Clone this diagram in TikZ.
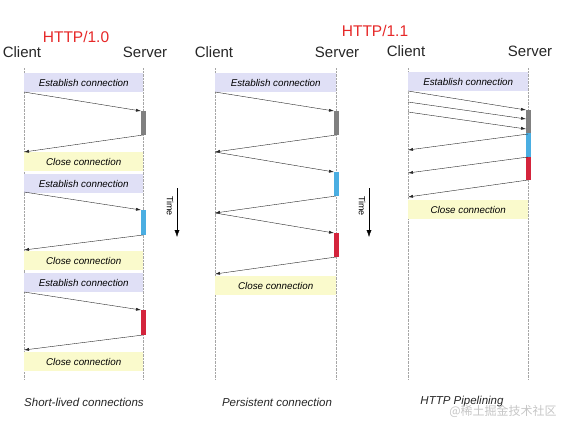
\documentclass[tikz,border=0pt]{standalone}
\usepackage{fontspec}
\setmainfont{Liberation Sans}
\newfontfamily\cjk{Noto Sans CJK SC}
\usetikzlibrary{arrows.meta}
\definecolor{estfill}{RGB}{224,224,246}
\definecolor{closefill}{RGB}{250,250,204}
\definecolor{bargray}{RGB}{128,128,128}
\definecolor{barblue}{RGB}{74,174,226}
\definecolor{barred}{RGB}{212,36,60}
\definecolor{httpred}{RGB}{230,40,40}
\tikzset{
  lifeline/.style={gray!70, densely dotted, thin},
  msg/.style={black!85, thin, -{Latex[length=5pt,width=3pt]}},
  estbox/.style={fill=estfill, anchor=north west, minimum height=19pt, inner sep=0pt, font=\itshape\fontsize{9.8}{10}\selectfont},
  closebox/.style={fill=closefill, anchor=north west, minimum height=19pt, inner sep=0pt, font=\itshape\fontsize{9.8}{10}\selectfont},
  role/.style={font=\fontsize{15}{17}\selectfont, text=black!85},
  caption/.style={font=\itshape\fontsize{11.5}{13}\selectfont, text=black!85},
  version/.style={font=\fontsize{15.5}{17}\selectfont, text=httpred}
}
\begin{document}
\begin{tikzpicture}[x=1pt,y=-1pt]
  \useasboundingbox (0,0) rectangle (562,429);

  % headings
  \node[version] (v10) at (76,37) {HTTP/1.0};
  \node[version] (v11) at (375,31) {HTTP/1.1};
  \node[role] (c1) at (22,52) {Client};
  \node[role] (s1) at (145,52) {Server};
  \node[role] (c2) at (214,52) {Client};
  \node[role] (s2) at (337,52) {Server};
  \node[role] (c3) at (406,51) {Client};
  \node[role] (s3) at (530,51) {Server};

  % lifelines
  \draw[lifeline] (24,68) -- (24,380);
  \draw[lifeline] (143,68) -- (143,380);
  \draw[lifeline] (215,68) -- (215,380);
  \draw[lifeline] (336,68) -- (336,380);
  \draw[lifeline] (408,68) -- (408,380);
  \draw[lifeline] (528,68) -- (528,380);

  % short-lived connections
  \node[estbox, minimum width=119pt] (e1a) at (24,73) {Establish connection};
  \node[estbox, minimum width=119pt] (e1b) at (24,174) {Establish connection};
  \node[estbox, minimum width=119pt] (e1c) at (24,273) {Establish connection};
  \node[closebox, minimum width=119pt] (k1a) at (24,152) {Close connection};
  \node[closebox, minimum width=119pt] (k1b) at (24,251) {Close connection};
  \node[closebox, minimum width=119pt] (k1c) at (24,352) {Close connection};
  \fill[bargray] (141,111) rectangle (146,135);
  \fill[barblue] (141,210) rectangle (146,235);
  \fill[barred] (141,310) rectangle (146,335);
  \coordinate (a1) at (24,92);   \coordinate (b1) at (141,111);
  \coordinate (a2) at (143,135); \coordinate (b2) at (24,152);
  \coordinate (a3) at (24,192);  \coordinate (b3) at (141,210);
  \coordinate (a4) at (143,235); \coordinate (b4) at (24,250);
  \coordinate (a5) at (24,292);  \coordinate (b5) at (141,310);
  \coordinate (a6) at (143,335); \coordinate (b6) at (24,350);
  \draw[msg] (a1) -- (b1);
  \draw[msg] (a2) -- (b2);
  \draw[msg] (a3) -- (b3);
  \draw[msg] (a4) -- (b4);
  \draw[msg] (a5) -- (b5);
  \draw[msg] (a6) -- (b6);
  \node[caption] (t1) at (84,402) {Short-lived connections};

  % persistent connection
  \node[estbox, minimum width=121pt] (e2) at (215,73) {Establish connection};
  \node[closebox, minimum width=121pt] (k2) at (215,276) {Close connection};
  \fill[bargray] (334,111) rectangle (339,135);
  \fill[barblue] (334,172) rectangle (339,196);
  \fill[barred] (334,233) rectangle (339,257);
  \coordinate (p1) at (215,92);  \coordinate (q1) at (334,111);
  \coordinate (p2) at (336,135); \coordinate (q2) at (215,152);
  \coordinate (p3) at (215,152); \coordinate (q3) at (334,172);
  \coordinate (p4) at (336,196); \coordinate (q4) at (215,213);
  \coordinate (p5) at (215,213); \coordinate (q5) at (334,233);
  \coordinate (p6) at (336,257); \coordinate (q6) at (215,274);
  \draw[msg] (p1) -- (q1);
  \draw[msg] (p2) -- (q2);
  \draw[msg] (p3) -- (q3);
  \draw[msg] (p4) -- (q4);
  \draw[msg] (p5) -- (q5);
  \draw[msg] (p6) -- (q6);
  \node[caption] (t2) at (277,402) {Persistent connection};

  % pipelining
  \node[estbox, minimum width=120pt] (e3) at (408,72) {Establish connection};
  \node[closebox, minimum width=120pt] (k3) at (408,200) {Close connection};
  \fill[bargray] (526,110) rectangle (531,133);
  \fill[barblue] (526,133) rectangle (531,157);
  \fill[barred] (526,157) rectangle (531,180);
  \coordinate (u1) at (408,91);  \coordinate (w1) at (526,110);
  \coordinate (u2) at (408,102); \coordinate (w2) at (526,119);
  \coordinate (u3) at (408,112); \coordinate (w3) at (526,129);
  \coordinate (u4) at (528,134); \coordinate (w4) at (408,150);
  \coordinate (u5) at (528,157); \coordinate (w5) at (408,173);
  \coordinate (u6) at (528,180); \coordinate (w6) at (408,197);
  \draw[msg] (u1) -- (w1);
  \draw[msg] (u2) -- (w2);
  \draw[msg] (u3) -- (w3);
  \draw[msg] (u4) -- (w4);
  \draw[msg] (u5) -- (w5);
  \draw[msg] (u6) -- (w6);
  \node[caption] (t3) at (462,402) {HTTP Pipelining};

  % time arrows
  \coordinate (ta1) at (177,188); \coordinate (tb1) at (177,237);
  \coordinate (ta2) at (369,188); \coordinate (tb2) at (369,237);
  \draw[thin, -{Latex[length=7pt,width=5pt]}] (ta1) -- (tb1);
  \draw[thin, -{Latex[length=7pt,width=5pt]}] (ta2) -- (tb2);
  \node[rotate=-90, font=\fontsize{9}{10}\selectfont] (time1) at (170,206) {Time};
  \node[rotate=-90, font=\fontsize{9}{10}\selectfont] (time2) at (362,206) {Time};

  % watermark
  \node[text=gray!45, font=\cjk\fontsize{12}{14}\selectfont] (wm) at (503,411) {@稀土掘金技术社区};
\end{tikzpicture}
\end{document}
